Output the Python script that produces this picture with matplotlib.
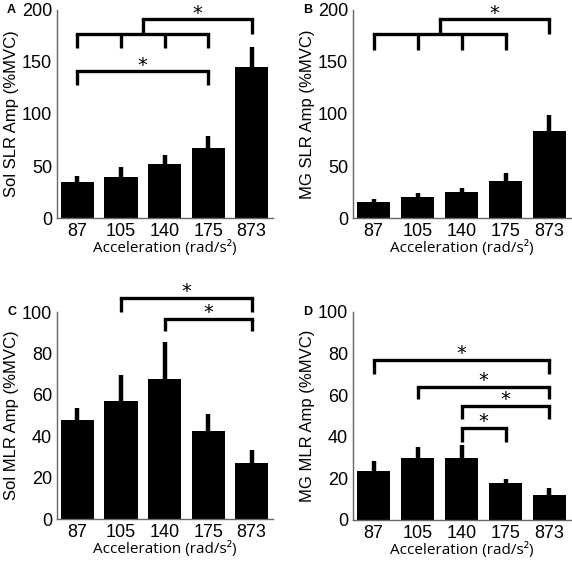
import numpy as np
import matplotlib.pyplot as plt

accel = ['87', '105', '140', '175', '873']

sol_slr = [34.5, 39, 52, 67, 145]
sol_slr_err = [5.5, 10, 9, 12, 19]
mg_slr = [15.5, 20, 25, 36, 84]
mg_slr_err = [2.5, 4, 4, 7, 15]
sol_mlr = [47.8, 57, 67.6, 42.5, 27]
sol_mlr_err = [5.8, 12.6, 17.9, 8.2, 6.3]
mg_mlr = [23.5, 29.8, 29.8, 17.8, 12]
mg_mlr_err = [4.9, 5.2, 6.2, 1.9, 3.4]

# brackets: (x positions of ticks, bar height, tick bottom, star?)
brk_a = [([0, 1, 2, 3], 177, 163, False), ([1.5, 4], 191, 177, True), ([0, 3], 141, 128, True)]
brk_b = [([0, 1, 2, 3], 177, 162, False), ([1.5, 4], 191, 177, True)]
brk_c = [([1, 4], 106.8, 100, True), ([2, 4], 96.6, 90.8, True)]
brk_d = [([0, 4], 76.9, 70, True), ([1, 4], 64, 58, True), ([2, 4], 54.8, 48.6, True), ([2, 3], 44.2, 37.5, True)]

W, H = 572, 561
fig = plt.figure(figsize=(W / 100, H / 100), dpi=100)


def panel(left, bottom, top, right, vals, errs, ylab, ymax, step, brackets, letter):
    ax = fig.add_axes([left / W, 1 - bottom / H, (right - left) / W, (bottom - top) / H])
    x = np.arange(len(vals))
    ax.bar(x, vals, width=0.76, color='black')
    for xi, v, e in zip(x, vals, errs):
        ax.plot([xi, xi], [v, v + e], color='black', lw=3.2, solid_capstyle='butt')
    for xs, yb, yt, star in brackets:
        ax.plot([min(xs), max(xs)], [yb, yb], color='black', lw=2.4, clip_on=False, solid_capstyle='projecting')
        for xx in xs:
            ax.plot([xx, xx], [yb, yt], color='black', lw=2.4, clip_on=False, solid_capstyle='butt')
        if star:
            ax.annotate('*', xy=((min(xs) + max(xs)) / 2, yb), xytext=(0, 0.5),
                        textcoords='offset points', ha='center', va='baseline',
                        fontsize=14, family='DejaVu Sans', annotation_clip=False)
    ax.set_xlim(-0.47, 4.49)
    ax.set_ylim(0, ymax)
    ax.set_xticks(x)
    ax.set_xticklabels(accel)
    ax.set_yticks(np.arange(0, ymax + 1, step))
    ax.tick_params(length=0, labelsize=13, pad=3.5)
    for t in ax.get_xticklabels() + ax.get_yticklabels():
        t.set_family('Liberation Sans')
    for s in ['top', 'right']:
        ax.spines[s].set_visible(False)
    for s in ['left', 'bottom']:
        ax.spines[s].set_color('#666666')
        ax.spines[s].set_linewidth(1.0)
    ax.set_xlabel('Acceleration (rad/s²)', fontsize=11, family='Open Sans', labelpad=0)
    ax.set_ylabel(ylab, fontsize=12, family='Liberation Sans', labelpad=2)
    fig.text((left - 50) / W, 1 - top / H, letter, fontsize=9, fontweight='bold',
             family='Liberation Sans', ha='left', va='center')
    return ax


panel(57, 218, 10, 273, sol_slr, sol_slr_err, 'Sol SLR Amp (%MVC)', 200, 50, brk_a, 'A')
panel(353, 218, 10, 571, mg_slr, mg_slr_err, 'MG SLR Amp (%MVC)', 200, 50, brk_b, 'B')
panel(57, 519, 312, 273, sol_mlr, sol_mlr_err, 'Sol MLR Amp (%MVC)', 100, 20, brk_c, 'C')
panel(353, 520, 312, 571, mg_mlr, mg_mlr_err, 'MG MLR Amp (%MVC)', 100, 20, brk_d, 'D')

fig.savefig('out.png', dpi=100)
